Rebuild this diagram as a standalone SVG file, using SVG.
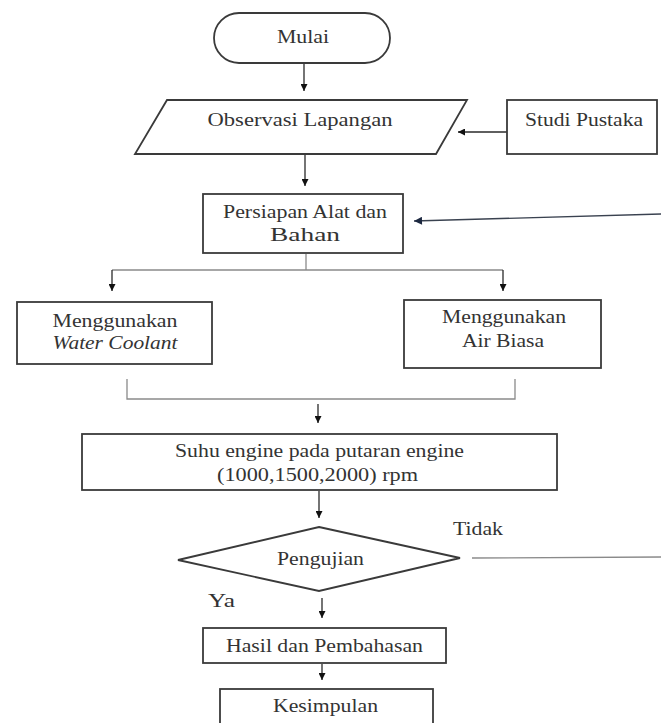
<svg xmlns="http://www.w3.org/2000/svg" width="661" height="723" viewBox="0 0 661 723">
<style>
.box{fill:#fff;stroke:#3a3a3a;stroke-width:1.8}
.t{font-family:"Liberation Serif","Times New Roman",serif;font-size:18.5px;fill:#333;text-anchor:middle}
.ts{font-family:"Liberation Serif","Times New Roman",serif;font-size:18.5px;fill:#333}
.c{fill:none;stroke:#2a2a2a;stroke-width:1.3}
.g{fill:none;stroke:#8a8a8a;stroke-width:1.3}
</style>
<defs>
<marker id="ah" viewBox="0 0 10 10" refX="10" refY="5" markerWidth="7" markerHeight="7" markerUnits="userSpaceOnUse" orient="auto">
<path d="M0,0 L10,5 L0,10 Z" fill="#111"/>
</marker>
<marker id="ahb" viewBox="0 0 10 10" refX="10" refY="5" markerWidth="9" markerHeight="8" markerUnits="userSpaceOnUse" orient="auto">
<path d="M0,0 L10,5 L0,10 Z" fill="#1c2840"/>
</marker>
</defs>
<rect width="661" height="723" fill="#fff"/>
<g id="connectors">
<line class="c" x1="304" y1="63" x2="304" y2="91" marker-end="url(#ah)"/>
<line class="c" x1="507" y1="132" x2="458" y2="132" marker-end="url(#ah)"/>
<line class="c" x1="305" y1="155" x2="305" y2="186" marker-end="url(#ah)"/>
<line x1="661" y1="214" x2="414" y2="221" stroke="#3a4250" stroke-width="1.4" marker-end="url(#ahb)"/>
<polyline class="g" points="306,254 306,270"/>
<line class="g" x1="112" y1="270" x2="503" y2="270"/>
<line class="c" x1="112" y1="270" x2="112" y2="291" marker-end="url(#ah)"/>
<line class="c" x1="503" y1="270" x2="503" y2="291" marker-end="url(#ah)"/>
<path class="g" d="M127,379 V399 H515 V379"/>
<line class="c" x1="318" y1="404" x2="318" y2="423" marker-end="url(#ah)"/>
<line class="c" x1="319" y1="491" x2="319" y2="518" marker-end="url(#ah)"/>
<line class="g" x1="472" y1="558" x2="661" y2="557"/>
<line class="c" x1="322" y1="598" x2="322" y2="618" marker-end="url(#ah)"/>
<line class="c" x1="322" y1="664" x2="322" y2="680" marker-end="url(#ah)"/>
</g>
<g id="mulai">
<rect class="box" x="214" y="13" width="176" height="50" rx="25"/>
<text class="t" x="303" y="43" textLength="52" lengthAdjust="spacingAndGlyphs">Mulai</text>
</g>
<g id="observasi">
<polygon class="box" points="167,100 467,100 436,154 135,154"/>
<text class="t" x="300" y="126" textLength="185" lengthAdjust="spacingAndGlyphs">Observasi Lapangan</text>
</g>
<g id="studi">
<rect class="box" x="507" y="100" width="150" height="54"/>
<text class="t" x="584" y="126" textLength="118" lengthAdjust="spacingAndGlyphs">Studi Pustaka</text>
</g>
<g id="persiapan">
<rect class="box" x="203" y="194" width="200" height="59"/>
<text class="t" x="305" y="218" textLength="164" lengthAdjust="spacingAndGlyphs">Persiapan Alat dan</text>
<text class="t" x="305" y="241" textLength="70" lengthAdjust="spacingAndGlyphs">Bahan</text>
</g>
<g id="water">
<rect class="box" x="17" y="302" width="195" height="62"/>
<text class="t" x="115" y="327" textLength="125" lengthAdjust="spacingAndGlyphs">Menggunakan</text>
<text class="t" x="115" y="349" textLength="125" lengthAdjust="spacingAndGlyphs" font-style="italic">Water Coolant</text>
</g>
<g id="air">
<rect class="box" x="404" y="300" width="197" height="68"/>
<text class="t" x="504" y="323" textLength="124" lengthAdjust="spacingAndGlyphs">Menggunakan</text>
<text class="t" x="503" y="347" textLength="82" lengthAdjust="spacingAndGlyphs">Air Biasa</text>
</g>
<g id="suhu">
<rect class="box" x="82" y="434" width="475" height="56"/>
<text class="t" x="319.5" y="457" textLength="289" lengthAdjust="spacingAndGlyphs">Suhu engine pada putaran engine</text>
<text class="t" x="317.5" y="481" textLength="201" lengthAdjust="spacingAndGlyphs">(1000,1500,2000) rpm</text>
</g>
<g id="pengujian">
<polygon class="box" points="319,527 460,558 319,591 178,560"/>
<text class="t" x="320.5" y="565" textLength="87" lengthAdjust="spacingAndGlyphs">Pengujian</text>
</g>
<g id="labels">
<text class="ts" x="453" y="535" textLength="50" lengthAdjust="spacingAndGlyphs">Tidak</text>
<text class="ts" x="208" y="607" textLength="27" lengthAdjust="spacingAndGlyphs">Ya</text>
</g>
<g id="hasil">
<rect class="box" x="203" y="628" width="243" height="35"/>
<text class="t" x="324.5" y="652" textLength="197" lengthAdjust="spacingAndGlyphs">Hasil dan Pembahasan</text>
</g>
<g id="kesimpulan">
<rect class="box" x="220" y="689" width="213" height="40"/>
<text class="t" x="325.5" y="712" textLength="105" lengthAdjust="spacingAndGlyphs">Kesimpulan</text>
</g>
</svg>
